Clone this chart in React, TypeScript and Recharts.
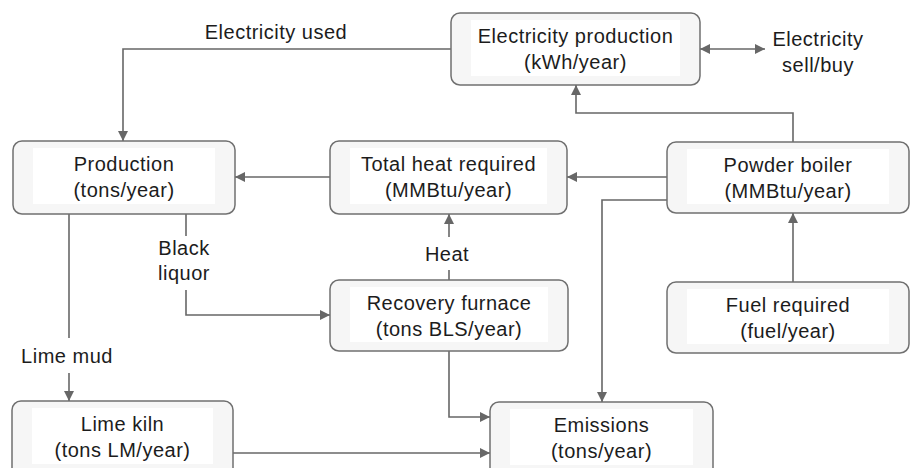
import { Scatter, ScatterChart, XAxis, YAxis } from "recharts";

const W = 910;
const H = 468;

// boxes, in diagram pixel units (y grows downward)
const boxNames = ["Electricity production", "Production", "Total heat required", "Powder boiler", "Recovery furnace", "Fuel required", "Lime kiln", "Emissions"];
const boxUnits = ["(kWh/year)", "(tons/year)", "(MMBtu/year)", "(MMBtu/year)", "(tons BLS/year)", "(fuel/year)", "(tons LM/year)", "(tons/year)"];
const boxLeft = [451, 13, 330, 667, 330, 667, 12, 490];
const boxRight = [700, 235, 567, 909, 568, 909, 233, 713];
const boxTop = [13, 141, 141, 142, 280, 282, 401, 402];
const boxBottom = [85, 214, 214, 213, 351, 353, 478, 478];

// connectors, as polylines
const electricityUsed = [[451, 49], [123, 49], [123, 141]];
const heatToProduction = [[330, 177], [235, 177]];
const boilerToHeat = [[667, 177], [567, 177]];
const boilerToElectricity = [[793, 142], [793, 113], [576, 113], [576, 85]];
const sellBuy = [[700, 49], [765, 49]];
const boilerToEmissions = [[667, 200], [602, 200], [602, 402]];
const fuelToBoiler = [[793, 282], [793, 213]];
const heatStub = [[449, 280], [449, 270]];
const heatUp = [[449, 237], [449, 214]];
const liquorStub = [[186, 214], [186, 236]];
const liquorToFurnace = [[186, 290], [186, 315], [330, 315]];
const mudStub = [[69, 214], [69, 338]];
const mudToKiln = [[69, 373], [69, 401]];
const furnaceToEmissions = [[449, 351], [449, 417], [490, 417]];
const kilnToEmissions = [[233, 453], [490, 453]];

const connectors = [
  electricityUsed, heatToProduction, boilerToHeat, boilerToElectricity, sellBuy,
  boilerToEmissions, fuelToBoiler, heatStub, heatUp, liquorStub, liquorToFurnace,
  mudStub, mudToKiln, furnaceToEmissions, kilnToEmissions,
];

// arrow heads: tip point and direction
const arrowX = [123, 235, 567, 576, 700, 765, 602, 793, 449, 330, 69, 490, 490];
const arrowY = [141, 177, 177, 85, 49, 49, 402, 213, 214, 315, 401, 417, 453];
const arrowDir = ["down", "left", "left", "up", "left", "right", "down", "up", "up", "right", "down", "right", "right"];

// free labels on the flows
const flowLabels = ["Electricity used", "Electricity", "sell/buy", "Heat", "Black", "liquor", "Lime mud"];
const flowLabelX = [276, 818, 818, 447, 184, 184, 67];
const flowLabelY = [32, 39, 65, 254, 248, 273, 356];

const lineColor = "#676767";
const textColor = "#1c1c1c";
const font = "'Liberation Sans', Arial, sans-serif";
const fontSize = 20;
const spacing = 0.5;

const boxData = boxNames.map((name, i) => ({
  x: (boxLeft[i] + boxRight[i]) / 2,
  y: (boxTop[i] + boxBottom[i]) / 2,
  w: boxRight[i] - boxLeft[i],
  h: boxBottom[i] - boxTop[i],
  name,
  unit: boxUnits[i],
}));

const arrowData = arrowX.map((x, i) => ({ x, y: arrowY[i], dir: arrowDir[i] }));
const labelData = flowLabels.map((text, i) => ({ x: flowLabelX[i], y: flowLabelY[i], text }));

function BoxShape(props: any) {
  const { cx, cy, payload } = props;
  const { w, h, name, unit } = payload;
  const left = cx - w / 2;
  const top = cy - h / 2;
  const textMid = top + 36;
  return (
    <g>
      <rect x={left} y={top} width={w} height={h} rx={9} ry={9} fill="#f6f6f6" stroke="#707070" strokeWidth={1.5} />
      <rect x={left + 20} y={top + 7} width={w - 40} height={Math.min(h, 72) - 16} fill="#ffffff" />
      <text x={cx} y={textMid - 13} textAnchor="middle" dominantBaseline="central" fontFamily={font} fontSize={fontSize} letterSpacing={spacing} fill={textColor}>
        {name}
      </text>
      <text x={cx} y={textMid + 13} textAnchor="middle" dominantBaseline="central" fontFamily={font} fontSize={fontSize} letterSpacing={spacing} fill={textColor}>
        {unit}
      </text>
    </g>
  );
}

function ArrowHead(props: any) {
  const { cx, cy, payload } = props;
  const len = 10;
  const half = 5;
  let pts = "";
  if (payload.dir === "down") pts = `${cx},${cy} ${cx - half},${cy - len} ${cx + half},${cy - len}`;
  if (payload.dir === "up") pts = `${cx},${cy} ${cx - half},${cy + len} ${cx + half},${cy + len}`;
  if (payload.dir === "left") pts = `${cx},${cy} ${cx + len},${cy - half} ${cx + len},${cy + half}`;
  if (payload.dir === "right") pts = `${cx},${cy} ${cx - len},${cy - half} ${cx - len},${cy + half}`;
  return <polygon points={pts} fill={lineColor} />;
}

function FlowLabel(props: any) {
  const { cx, cy, payload } = props;
  return (
    <text x={cx} y={cy} textAnchor="middle" dominantBaseline="central" fontFamily={font} fontSize={fontSize} letterSpacing={spacing} fill={textColor}>
      {payload.text}
    </text>
  );
}

const noDot = () => <g />;

export default function App() {
  return (
    <div style={{ position: "absolute", left: 0, top: 0, width: W, height: H, background: "#ffffff" }}>
      <ScatterChart width={W} height={H} margin={{ top: 0, right: 0, bottom: 0, left: 0 }}>
        <XAxis type="number" dataKey="x" domain={[0, W]} hide />
        <YAxis type="number" dataKey="y" domain={[0, H]} reversed hide />
        {connectors.map((pts, i) => (
          <Scatter
            key={`c${i}`}
            data={pts.map(([x, y]) => ({ x, y }))}
            line={{ stroke: lineColor, strokeWidth: 1.6 }}
            lineType="joint"
            shape={noDot}
            isAnimationActive={false}
          />
        ))}
        <Scatter data={boxData} shape={BoxShape} isAnimationActive={false} />
        <Scatter data={arrowData} shape={ArrowHead} isAnimationActive={false} />
        <Scatter data={labelData} shape={FlowLabel} isAnimationActive={false} />
      </ScatterChart>
    </div>
  );
}
